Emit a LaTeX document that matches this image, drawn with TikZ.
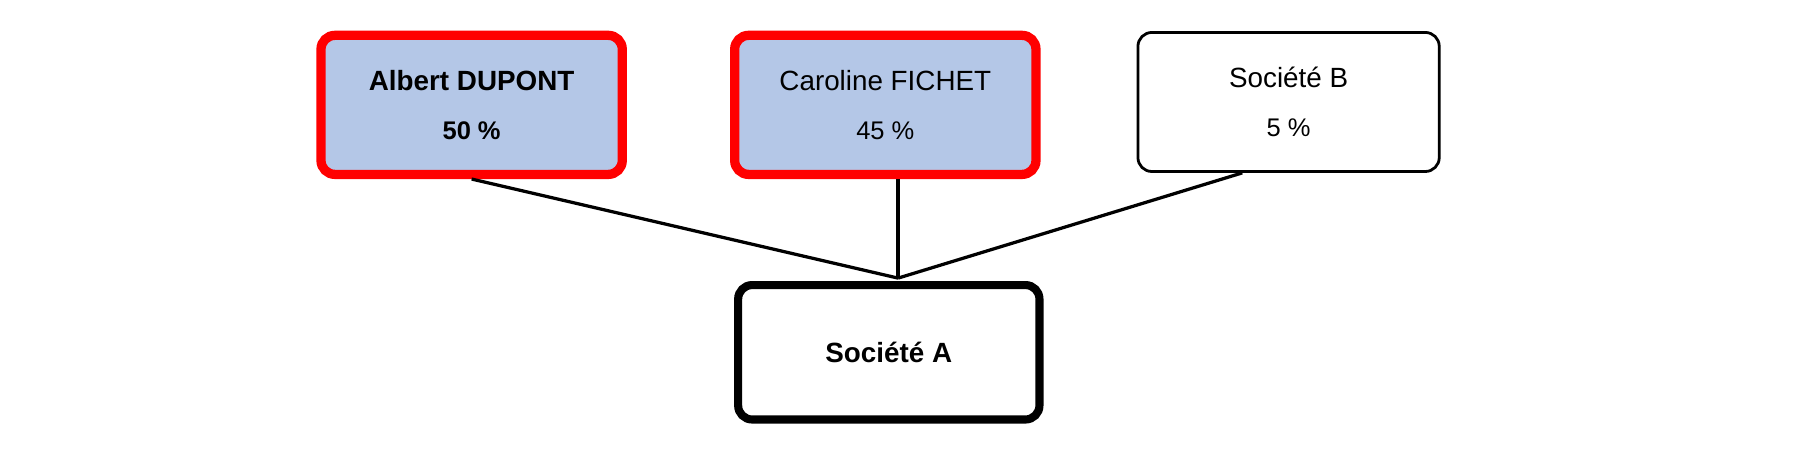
\documentclass[tikz,border=0pt]{standalone}
\usepackage{fontspec}
\setmainfont{Liberation Sans}
\usepackage{xcolor}
\usetikzlibrary{positioning}
\definecolor{holderblue}{HTML}{B4C7E7}

\begin{document}
\begin{tikzpicture}[x=1pt,y=1pt]
    \tikzset{box/.style = {shape=rectangle,draw,rounded corners=6pt,minimum width=130pt,minimum height=60pt,align=center,font=\fontsize{11}{19}\selectfont}}
    \tikzset{holder/.style = {box,draw=red,line width=4pt,fill=holderblue}}
    \tikzset{link/.style = {line width=1.4pt}}
    \useasboundingbox (0,0) rectangle (784,199);
    % vertices
    \node[holder] (albert) at (203.5,153.75) {\textbf{\fontsize{12}{19}\selectfont Albert DUPONT}\\[2pt]\textbf{50 \%}};
    \node[holder] (caroline) at (382,153.75) {{\fontsize{12}{19}\selectfont Caroline FICHET}\\[2pt]45 \%};
    \node[box,line width=1.2pt] (socb) at (556,155) {{\fontsize{12}{19}\selectfont Société B}\\[2pt]5 \%};
    \node[box,line width=3.5pt,minimum height=58pt] (soca) at (383.5,47) {\textbf{\fontsize{12}{14}\selectfont Société A}};
    \coordinate (join) at (387.5,79);
    %edges
    \draw[link] (albert.south) -- (join);
    \draw[link] (caroline.south -| join) -- (join);
    \draw[link] ([xshift=-20pt]socb.south) -- (join);
\end{tikzpicture}
\end{document}
